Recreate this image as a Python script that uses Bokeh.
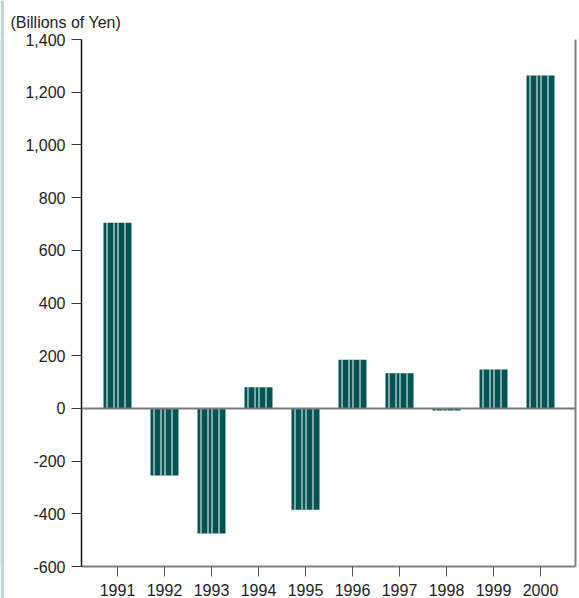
from bokeh.plotting import figure
from bokeh.layouts import row
from bokeh.models import (FixedTicker, NumeralTickFormatter, LinearAxis, Span,
                          Title, Range1d)
from bokeh.embed import file_html
from bokeh.resources import INLINE

# Annual values, billions of yen
years = [1991, 1992, 1993, 1994, 1995, 1996, 1997, 1998, 1999, 2000]
values = [705, -255, -475, 80, -385, 185, 133, -8, 148, 1263]
y_ticks = [-600, -400, -200, 0, 200, 400, 600, 800, 1000, 1200, 1400]
unit_label = "(Billions of Yen)"

BAR = "#035353"
TEXT = "#222222"
FONT = "Liberation Sans"

# thin coloured strip down the left edge of the page
strip = figure(width=4, height=598, toolbar_location=None, output_backend="svg",
               min_border=0, border_fill_color="#c3d6d9",
               background_fill_color="#c3d6d9", outline_line_color=None)
strip.axis.visible = False
strip.grid.visible = False

# 47 px per year across a 494 px wide frame
p = figure(width=575, height=598, toolbar_location=None, output_backend="svg",
           x_range=Range1d(1990.234, 1990.234 + 494 / 47), y_range=Range1d(-600, 1400),
           min_border_left=77, min_border_right=4, min_border_top=39,
           min_border_bottom=32, outline_line_color=None,
           background_fill_color="white", border_fill_color="white")
p.grid.visible = False

# bars with thin white vertical stripes
bar_w = 28 / 47
p.vbar(x=years, top=values, bottom=0, width=bar_w, fill_color=BAR, line_color=None)
stripe_offsets = [-10.5 / 47, -3.5 / 47, 0.5 / 47, 7.5 / 47]
for off in stripe_offsets:
    p.segment(x0=[y + off for y in years], y0=[0] * len(years),
              x1=[y + off for y in years], y1=values,
              line_color="white", line_width=1)

# zero line
p.add_layout(Span(location=0, dimension="width", line_color="#7a7a7a", line_width=2))

# axes
xa = p.xaxis[0]
xa.ticker = FixedTicker(ticks=years)
xa.axis_line_color = "#808080"
xa.axis_line_width = 2
xa.major_tick_line_color = "#555555"
xa.major_tick_in = 0
xa.major_tick_out = 10
xa.minor_tick_line_color = None
xa.major_label_standoff = 7
xa.major_label_text_font = FONT
xa.major_label_text_font_size = "16px"
xa.major_label_text_color = TEXT

ya = p.yaxis[0]
ya.ticker = FixedTicker(ticks=y_ticks)
ya.formatter = NumeralTickFormatter(format="0,0")
ya.axis_line_color = "#111111"
ya.axis_line_width = 1.5
ya.major_tick_line_color = "#333333"
ya.major_tick_in = 0
ya.major_tick_out = 10
ya.minor_tick_line_color = None
ya.major_label_standoff = 6
ya.major_label_text_font = FONT
ya.major_label_text_font_size = "16px"
ya.major_label_text_color = TEXT

ra = LinearAxis(ticker=FixedTicker(ticks=[]), axis_line_color="#808080",
                axis_line_width=2, major_tick_line_color=None,
                minor_tick_line_color=None)
p.add_layout(ra, "right")

p.add_layout(Title(text=unit_label, align="left", offset=-71, standoff=17,
                   text_font=FONT, text_font_size="16px", text_font_style="normal",
                   text_color=TEXT), "above")

layout = row(strip, p)
open("out.html", "w").write(file_html(layout, INLINE))
